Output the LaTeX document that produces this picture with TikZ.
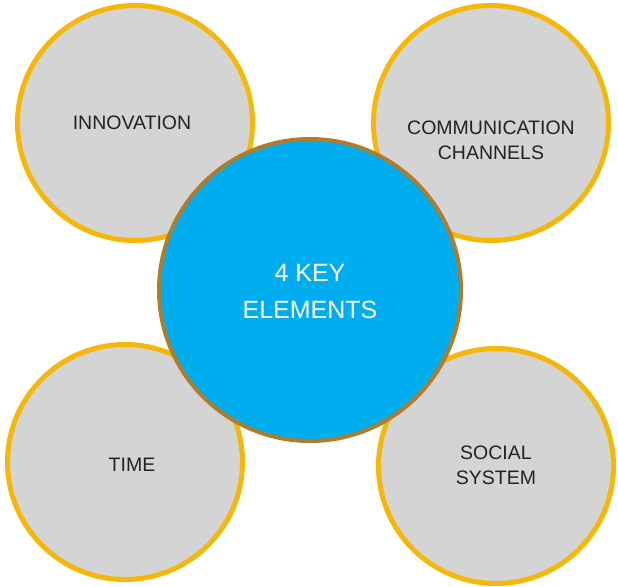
\documentclass[tikz,border=0pt]{standalone}
\usepackage{fontspec}
\setmainfont{Liberation Sans}
\definecolor{ringgold}{HTML}{F5B80A}
\definecolor{discgray}{HTML}{D4D4D4}
\definecolor{keyblue}{HTML}{00ADEE}
\definecolor{keyrim}{HTML}{B07C2C}
\definecolor{labeldark}{HTML}{222222}
\begin{document}
\begin{tikzpicture}[x=1pt,y=-1pt,
  elemdisc/.style={circle,draw=ringgold,line width=5pt,fill=discgray,minimum size=235pt,inner sep=0pt},
  keydisc/.style={circle,draw=keyrim,line width=4pt,fill=keyblue,minimum size=302pt,inner sep=0pt},
  elemtext/.style={align=center,text=labeldark,font=\fontsize{19.5}{25}\selectfont,inner sep=0pt},
  keytext/.style={align=center,text=white,font=\fontsize{25}{37}\selectfont,inner sep=0pt}]
\useasboundingbox (0,0) rectangle (618,586);
\node[elemdisc] (innov) at (135,123) {};
\node[elemdisc] (comm) at (491,123) {};
\node[elemdisc] (time) at (125,462) {};
\node[elemdisc] (social) at (496,466) {};
\node[keydisc] (key) at (310,290) {};
\node[elemtext] (innovt) at (132,123) {INNOVATION};
\node[elemtext] (commt) at (491,140) {COMMUNICATION\\CHANNELS};
\node[elemtext] (timet) at (132,465) {TIME};
\node[elemtext] (socialt) at (496,465) {SOCIAL\\SYSTEM};
\node[keytext] (keyt) at (310,292) {4 KEY\\ELEMENTS};
\end{tikzpicture}
\end{document}
